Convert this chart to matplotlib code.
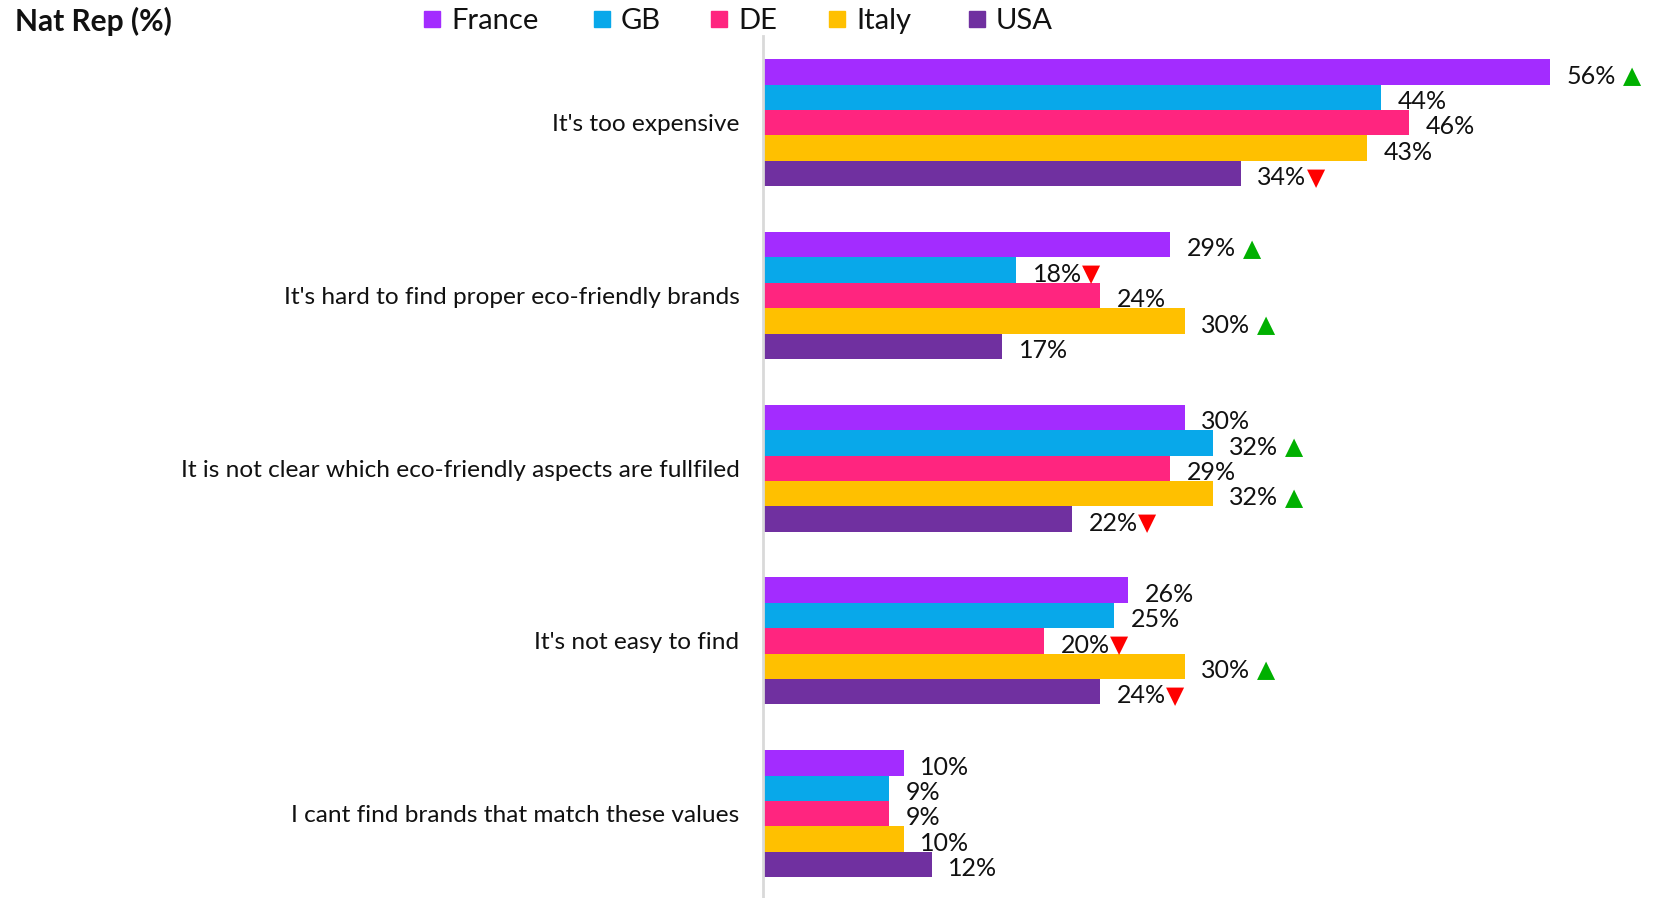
import matplotlib
matplotlib.use("Agg")
import matplotlib.pyplot as plt
from matplotlib.patches import Rectangle

plt.rcParams['font.family'] = ['Lato', 'DejaVu Sans']

categories = [
    "It's too expensive",
    "It's hard to find proper eco-friendly brands",
    "It is not clear which eco-friendly aspects are fullfiled",
    "It's not easy to find",
    "I cant find brands that match these values",
]
countries = ["France", "GB", "DE", "Italy", "USA"]
colors = ["#A32CFF", "#08A8EA", "#FF257F", "#FFC000", "#7030A0"]

france = [56, 29, 30, 26, 10]
gb = [44, 18, 32, 25, 9]
de = [46, 24, 29, 20, 9]
italy = [43, 30, 32, 30, 10]
usa = [34, 17, 22, 24, 12]

# significance markers per country: +1 higher, -1 lower, 0 none
sig_france = [1, 1, 0, 0, 0]
sig_gb = [0, -1, 1, 0, 0]
sig_de = [0, 0, 0, -1, 0]
sig_italy = [0, 1, 1, 1, 0]
sig_usa = [-1, 0, -1, -1, 0]

series = [france, gb, de, italy, usa]
sigs = [sig_france, sig_gb, sig_de, sig_italy, sig_usa]

W, H = 1660, 898
fig = plt.figure(figsize=(W / 100, H / 100), dpi=100)

ax_left, ax_right = 763, 1660
ax_top, ax_bottom = 36, 898
ax = fig.add_axes([ax_left / W, 1 - ax_bottom / H,
                   (ax_right - ax_left) / W, (ax_bottom - ax_top) / H])

bar_h = 1.0
group_step = 6.8
px_per_unit = 25.4

for j, (vals, col, sg) in enumerate(zip(series, colors, sigs)):
    ys = [g * group_step + j for g in range(len(categories))]
    ax.barh(ys, vals, height=bar_h, color=col, edgecolor='none', zorder=2)
    for y, v, s in zip(ys, vals, sg):
        t = ax.annotate(f"{v}%", xy=(v, y), xytext=(12, -3),
                        textcoords='offset points', va='center', ha='left',
                        fontsize=18, color='#111111')
        if s != 0:
            mark = '\u25B2' if s > 0 else '\u25BC'
            mcol = '#00B000' if s > 0 else '#FF0000'
            gap = 5 if s > 0 else 0
            ax.annotate(mark, xy=(1, 0.5), xycoords=t, xytext=(gap, 0),
                        textcoords='offset points', va='center', ha='left',
                        fontsize=17, color=mcol, family='DejaVu Sans')

x_max = (ax_right - ax_left) / 14.05
y_top = -0.5 - (59.3 - ax_top) / px_per_unit
y_bot = y_top + (ax_bottom - ax_top) / px_per_unit
ax.set_xlim(0, x_max)
ax.set_ylim(y_bot, y_top)

for sp in ['top', 'right', 'bottom']:
    ax.spines[sp].set_visible(False)
ax.spines['left'].set_color('#D9D9D9')
ax.spines['left'].set_linewidth(2)
ax.set_xticks([])
ax.set_yticks([g * group_step + 2 for g in range(len(categories))])
ax.set_yticklabels(categories, fontsize=17.6, color='#111111')
ax.tick_params(axis='y', length=0, pad=17)

# title
fig.text(15 / W, 1 - 21 / H, "Nat Rep (%)", fontsize=21.5, fontweight='bold',
         va='center', ha='left', color='#111111')

# legend row
leg_x = [424, 594, 711, 829, 969]
for name, col, lx in zip(countries, colors, leg_x):
    fig.patches.append(Rectangle(((lx) / W, 1 - 27 / H), 16 / W, 16 / H,
                                 transform=fig.transFigure, color=col))
    fig.text((lx + 27) / W, 1 - 21 / H, name, fontsize=21, va='center',
             ha='left', color='#111111')

fig.savefig("out.png", dpi=100)
